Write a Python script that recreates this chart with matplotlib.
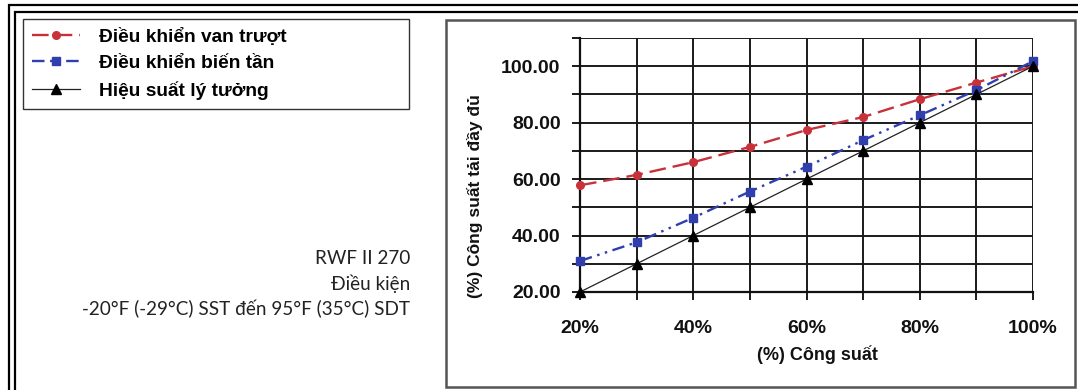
import matplotlib
matplotlib.use("Agg")
import matplotlib.pyplot as plt
from matplotlib.patches import Rectangle
from matplotlib.ticker import FixedLocator, FuncFormatter

plt.rcParams['font.family'] = ['Liberation Sans', 'DejaVu Sans']
plt.rcParams['lines.scale_dashes'] = False

# ---- data ----
capacity = [20, 30, 40, 50, 60, 70, 80, 90, 100]
slide_valve = [57.8, 61.5, 66.0, 71.4, 77.4, 82.0, 88.3, 94.2, 100.0]
vfd = [31.0, 37.6, 46.3, 55.6, 64.4, 73.8, 82.6, 91.5, 101.8]
ideal = [20, 30, 40, 50, 60, 70, 80, 90, 100]
series_labels = ["Điều khiển van trượt", "Điều khiển biến tần", "Hiệu suất lý tưởng"]
y_ticks = [20, 30, 40, 50, 60, 70, 80, 90, 100, 110]
y_tick_labels = [20, 40, 60, 80, 100]
x_tick_labels = [20, 40, 60, 80, 100]
note_lines = ["RWF II 270", "Điều kiện", "-20°F (-29°C) SST đến 95°F (35°C) SDT"]
x_label = "(%) Công suất"
y_label = "(%) Công suất tải đầy đủ"

W, H = 1078, 390
fig = plt.figure(figsize=(W / 100, H / 100), dpi=100)

# background overlay in pixel coordinates (decorative frames)
bg = fig.add_axes([0, 0, 1, 1], zorder=0)
bg.set_xlim(0, W)
bg.set_ylim(H, 0)
bg.axis('off')
for (x0, y0) in [(9, 5), (15, 12)]:
    bg.plot([x0, x0, W + 5], [H + 5, y0, y0], color='black', lw=1.6, solid_joinstyle='miter')
bg.add_patch(Rectangle((446, 20), 629, 367, fill=False, edgecolor='#555555', lw=1.8))

for i, t in enumerate(note_lines):
    bg.text(410, 259 + 25 * i, t, ha='right', va='center', fontsize=13.6,
            family=['Lato', 'DejaVu Sans'], color='#222222')

# plot axes
L, R, T, B = 580, 1033, 38, 292
ax = fig.add_axes([L / W, 1 - B / H, (R - L) / W, (B - T) / H], zorder=2)
ax.set_xlim(20, 100)
ax.set_ylim(20, 110)

red = '#c8313a'
blue = '#2f3fae'
l1, = ax.plot(capacity, slide_valve, color=red, lw=1.7, marker='o', markersize=5.5,
              dashes=(12, 5), label=series_labels[0], zorder=4, clip_on=False)
l2, = ax.plot(capacity, vfd, color=blue, lw=1.7, marker='s', markersize=6,
              dashes=(9, 4, 1.8, 4, 1.8, 4), label=series_labels[1], zorder=4, clip_on=False)
l3, = ax.plot(capacity, ideal, color='#222222', lw=0.9, marker='^', markersize=6.5,
              markerfacecolor='black', markeredgecolor='black',
              label=series_labels[2], zorder=5, clip_on=False)

ax.xaxis.set_major_locator(FixedLocator(capacity))
ax.yaxis.set_major_locator(FixedLocator(y_ticks))
ax.xaxis.set_major_formatter(FuncFormatter(lambda v, p: f"{v:.0f}%" if round(v) in x_tick_labels else ""))
ax.yaxis.set_major_formatter(FuncFormatter(lambda v, p: f"{v:.2f}" if round(v) in y_tick_labels else ""))
ax.grid(True, color='#1a1a1a', lw=1.4)
ax.set_axisbelow(True)
for s in ['top', 'right']:
    ax.spines[s].set_visible(False)
for s in ['left', 'bottom']:
    ax.spines[s].set_color('#111111')
    ax.spines[s].set_linewidth(1.6)
ax.tick_params(axis='both', length=6, width=1.4, color='#1a1a1a', labelsize=14)
ax.tick_params(axis='y', pad=8)
ax.tick_params(axis='x', pad=14)
for lab in ax.get_xticklabels() + ax.get_yticklabels():
    lab.set_fontweight('bold')
    lab.set_color('#111111')

ax.set_xlabel(x_label, fontsize=13, fontweight='bold', color='#111111')
ax.xaxis.set_label_coords((817 - L) / (R - L), (B - 355) / (B - T))
ax.xaxis.label.set_va('center')
ax.set_ylabel(y_label, fontsize=12.5, fontweight='bold', color='#111111')
ax.yaxis.set_label_coords((475 - L) / (R - L), (B - 196) / (B - T))
ax.yaxis.label.set_va('center')

leg = fig.legend(handles=[l1, l2, l3], loc='upper left',
                 bbox_to_anchor=(23 / W, 1 - 19 / H, (409 - 23) / W, 0.0001),
                 mode='expand', borderaxespad=0,
                 prop={'weight': 'bold', 'size': 13.8},
                 handlelength=2.5, handletextpad=1.0, labelspacing=0.48,
                 borderpad=0.45, fancybox=False, framealpha=1, edgecolor='#333333')
leg.get_frame().set_linewidth(1.0)

fig.savefig('out.png', dpi=100)
